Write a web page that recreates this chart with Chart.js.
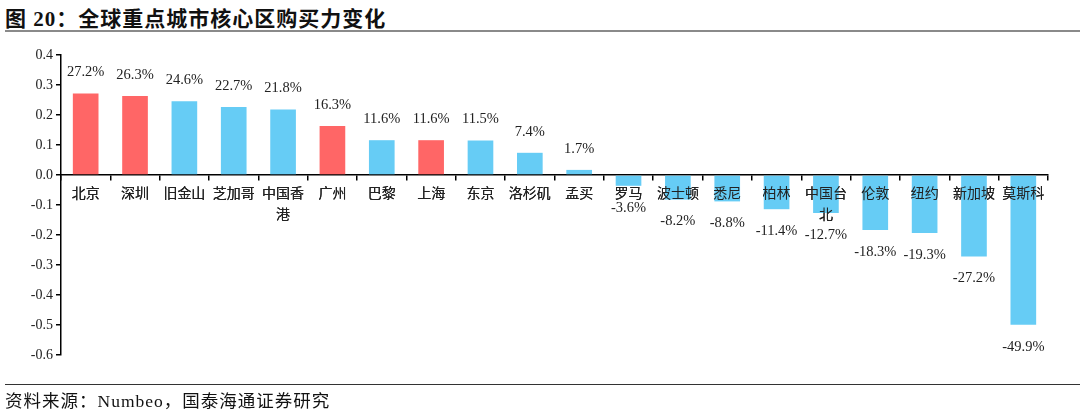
<!DOCTYPE html>
<html><head><meta charset="utf-8">
<script src="https://cdn.jsdelivr.net/npm/chart.js@4.4.1/dist/chart.umd.min.js"></script>
<style>
html,body{margin:0;padding:0;background:#fff;}
#wrap{position:relative;width:1080px;height:410px;overflow:hidden;}
#title{position:absolute;left:5px;top:2px;font-family:"Liberation Serif","Noto Sans CJK SC",serif;font-weight:bold;font-size:21px;letter-spacing:1px;color:#111;white-space:nowrap;}
#tline{position:absolute;left:5px;right:0;top:30px;height:2px;background:#8a8a8a;}
#sline{position:absolute;left:5px;right:0;top:384px;height:1px;background:#333;}
#source{position:absolute;left:5px;top:387px;font-family:"Liberation Serif","Noto Sans CJK SC",serif;font-size:17.5px;letter-spacing:1px;color:#111;white-space:nowrap;}
#cv{position:absolute;left:0;top:0;}
</style></head>
<body><div id="wrap">
<div id="title">图 20：全球重点城市核心区购买力变化</div>
<div id="tline"></div>
<canvas id="cv" width="1080" height="410"></canvas>
<div id="sline"></div>
<div id="source">资料来源：Numbeo，国泰海通证券研究</div>
</div>
<script>
const cities = ['北京','深圳','旧金山','芝加哥',['中国香','港'],'广州','巴黎','上海','东京','洛杉矶','孟买','罗马','波士顿','悉尼','柏林',['中国台','北'],'伦敦','纽约','新加坡','莫斯科'];
const changes = [0.272,0.263,0.246,0.227,0.218,0.163,0.116,0.116,0.115,0.074,0.017,-0.036,-0.082,-0.088,-0.114,-0.127,-0.183,-0.193,-0.272,-0.499];
const highlighted = ['北京','深圳','广州','上海'];
const yTicks = [-0.6,-0.5,-0.4,-0.3,-0.2,-0.1,0,0.1,0.2,0.3,0.4];
const RED = '#FF6666', BLUE = '#66CCF5';
const colors = cities.map(c => highlighted.includes(Array.isArray(c)?c.join(''):c) ? RED : BLUE);

const valueLabels = {
  id:'valueLabels',
  afterDatasetsDraw(chart){
    const ctx = chart.ctx;
    // redraw category labels on top of the bars
    chart.scales.x.drawLabels(chart.chartArea);
    const meta = chart.getDatasetMeta(0);
    ctx.save();
    ctx.font = '14.5px "Liberation Serif", serif';
    ctx.fillStyle = '#222';
    ctx.textAlign = 'center';
    ctx.textBaseline = 'middle';
    meta.data.forEach((bar,i)=>{
      const v = changes[i];
      const txt = (v*100).toFixed(1)+'%';
      const y = v>=0 ? bar.y-21 : bar.y+22;
      ctx.fillText(txt, bar.x, y);
    });
    ctx.restore();
  }
};

new Chart(document.getElementById('cv'),{
  type:'bar',
  data:{labels:cities,datasets:[{data:changes,backgroundColor:colors,barPercentage:0.52,categoryPercentage:1.0}]},
  options:{
    responsive:false,animation:false,
    layout:{padding:{left:0,right:32,top:55,bottom:55}},
    plugins:{legend:{display:false},tooltip:{enabled:false}},
    scales:{
      x:{
        position:{y:0},
        grid:{offset:true,drawOnChartArea:false,drawTicks:true,tickLength:5,color:'#000',lineWidth:1.5},
        border:{color:'#000',width:1.5},
        ticks:{autoSkip:false,maxRotation:0,padding:3,color:'#222',font:{family:'"Noto Sans CJK SC", sans-serif',size:14,lineHeight:1.45}}
      },
      y:{
        min:-0.6,max:0.4,
        afterFit(scale){scale.width=61;},
        afterBuildTicks(scale){scale.ticks = yTicks.map(v=>({value:v}));},
        grid:{drawOnChartArea:false,drawTicks:true,tickLength:5,color:'#000',lineWidth:1.5},
        border:{color:'#000',width:1.5},
        ticks:{padding:3,color:'#222',font:{family:'"Liberation Serif", serif',size:14},callback:v=>v.toFixed(1)}
      }
    }
  },
  plugins:[valueLabels]
});
</script>
</body></html>
